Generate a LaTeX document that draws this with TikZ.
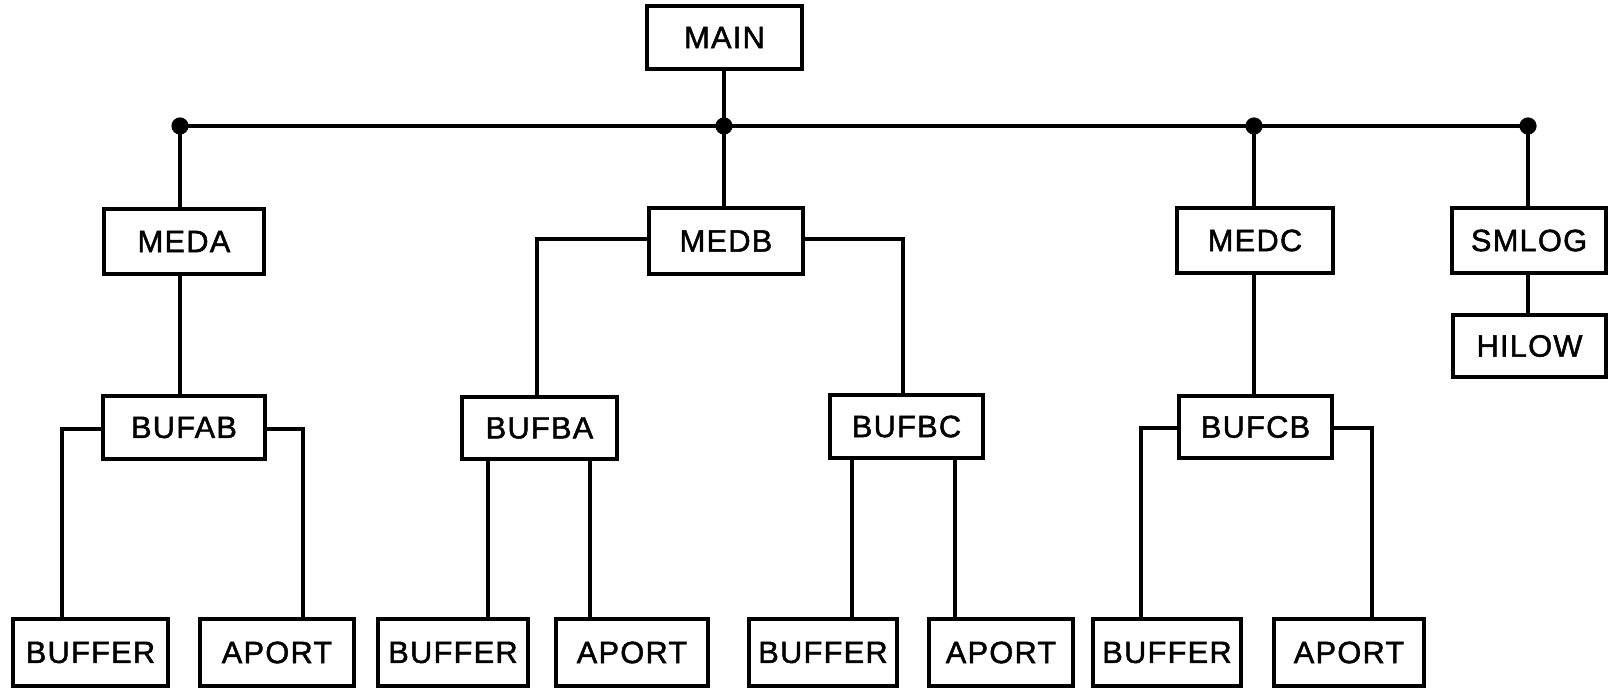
\documentclass[tikz,border=0pt]{standalone}
\usepackage{fontspec}
\setmainfont{Liberation Sans}[LetterSpace=4,FakeBold=1.5]
\begin{document}
\begin{tikzpicture}[x=0.5pt,y=-0.5pt,
  box/.style={draw, line width=1.9pt, inner sep=0pt, font=\fontsize{15.4}{18}\selectfont, minimum height=32pt},
  link/.style={line width=1.6pt},
  bus/.style={line width=1.8pt},
  junction/.style={circle, fill, inner sep=0pt, minimum size=8.6pt}]
\useasboundingbox (0,0) rectangle (1610,688);
% top
\node[box, minimum width=77.5pt, minimum height=31.5pt] (MAIN) at (724.5,37.5) {MAIN};
% bus junctions
\coordinate (dA) at (180,126);
\coordinate (dB) at (724,126);
\coordinate (dC) at (1254,126);
\coordinate (dD) at (1528,126);
% second level
\node[box, minimum width=80pt, minimum height=32.5pt] (MEDA) at (184,241.5) {MEDA};
\node[box, minimum width=77pt, minimum height=33pt] (MEDB) at (726,241) {MEDB};
\node[box, minimum width=78pt, minimum height=32.5pt] (MEDC) at (1255,240.5) {MEDC};
\node[box, minimum width=77pt, minimum height=32.5pt] (SMLOG) at (1529,240.5) {SMLOG};
\node[box, minimum width=76.5pt, minimum height=31pt] (HILOW) at (1529.5,346) {HILOW};
% third level
\node[box, minimum width=81pt, minimum height=31.5pt] (BUFAB) at (184,427.5) {BUFAB};
\node[box, minimum width=77.5pt, minimum height=31pt] (BUFBA) at (539.5,428) {BUFBA};
\node[box, minimum width=76.5pt, minimum height=31.5pt] (BUFBC) at (906.5,426.5) {BUFBC};
\node[box, minimum width=76.5pt, minimum height=31pt] (BUFCB) at (1255.5,427) {BUFCB};
% bottom level
\node[box, minimum width=77.5pt, minimum height=33.5pt] (BUFFERa) at (90.5,652.5) {BUFFER};
\node[box, minimum width=77pt, minimum height=33.5pt] (APORTa) at (277,652.5) {APORT};
\node[box, minimum width=75pt, minimum height=33.5pt] (BUFFERb) at (453,652.5) {BUFFER};
\node[box, minimum width=76pt, minimum height=33.5pt] (APORTb) at (632,652.5) {APORT};
\node[box, minimum width=74pt, minimum height=33.5pt] (BUFFERc) at (823,652.5) {BUFFER};
\node[box, minimum width=72pt, minimum height=33.5pt] (APORTc) at (1001,652.5) {APORT};
\node[box, minimum width=74pt, minimum height=33.5pt] (BUFFERd) at (1167,652.5) {BUFFER};
\node[box, minimum width=75pt, minimum height=33.5pt] (APORTd) at (1349,652.5) {APORT};
% bus
\draw[bus] (dA) -- (dD);
\draw[link] (dB |- MAIN.south) -- (dB);
\draw[link] (dA) -- (dA |- MEDA.north);
\draw[link] (dB) -- (dB |- MEDB.north);
\draw[link] (dC) -- (dC |- MEDC.north);
\draw[link] (dD) -- (dD |- SMLOG.north);
\draw[link] (dD |- SMLOG.south) -- (dD |- HILOW.north);
% MEDA
\draw[link] (dA |- MEDA.south) -- (dA |- BUFAB.north);
% MEDB
\draw[link] ([yshift=1pt]MEDB.west) -| ([xshift=-1.25pt]BUFBA.north);
\draw[link] ([yshift=1pt]MEDB.east) -| ([xshift=-1.75pt]BUFBC.north);
% MEDC
\draw[link] (dC |- MEDC.south) -- (dC |- BUFCB.north);
% BUFAB
\draw[link] ([yshift=-0.75pt]BUFAB.west) -| ([xshift=-14.25pt]BUFFERa.north);
\draw[link] ([yshift=-0.75pt]BUFAB.east) -| ([xshift=13pt]APORTa.north);
% BUFBA
\draw[link] ([xshift=-25.75pt]BUFBA.south) -- ([xshift=-25.75pt]BUFBA.south |- BUFFERb.north);
\draw[link] ([xshift=25.25pt]BUFBA.south) -- ([xshift=25.25pt]BUFBA.south |- APORTb.north);
% BUFBC
\draw[link] ([xshift=-27.25pt]BUFBC.south) -- ([xshift=-27.25pt]BUFBC.south |- BUFFERc.north);
\draw[link] ([xshift=24.25pt]BUFBC.south) -- ([xshift=24.25pt]BUFBC.south |- APORTc.north);
% BUFCB
\draw[link] ([yshift=-0.5pt]BUFCB.west) -| ([xshift=-13pt]BUFFERd.north);
\draw[link] ([yshift=-0.5pt]BUFCB.east) -| ([xshift=11.5pt]APORTd.north);
% junction dots
\foreach \d in {dA,dB,dC,dD} \node[junction] at (\d) {};
\end{tikzpicture}
\end{document}
